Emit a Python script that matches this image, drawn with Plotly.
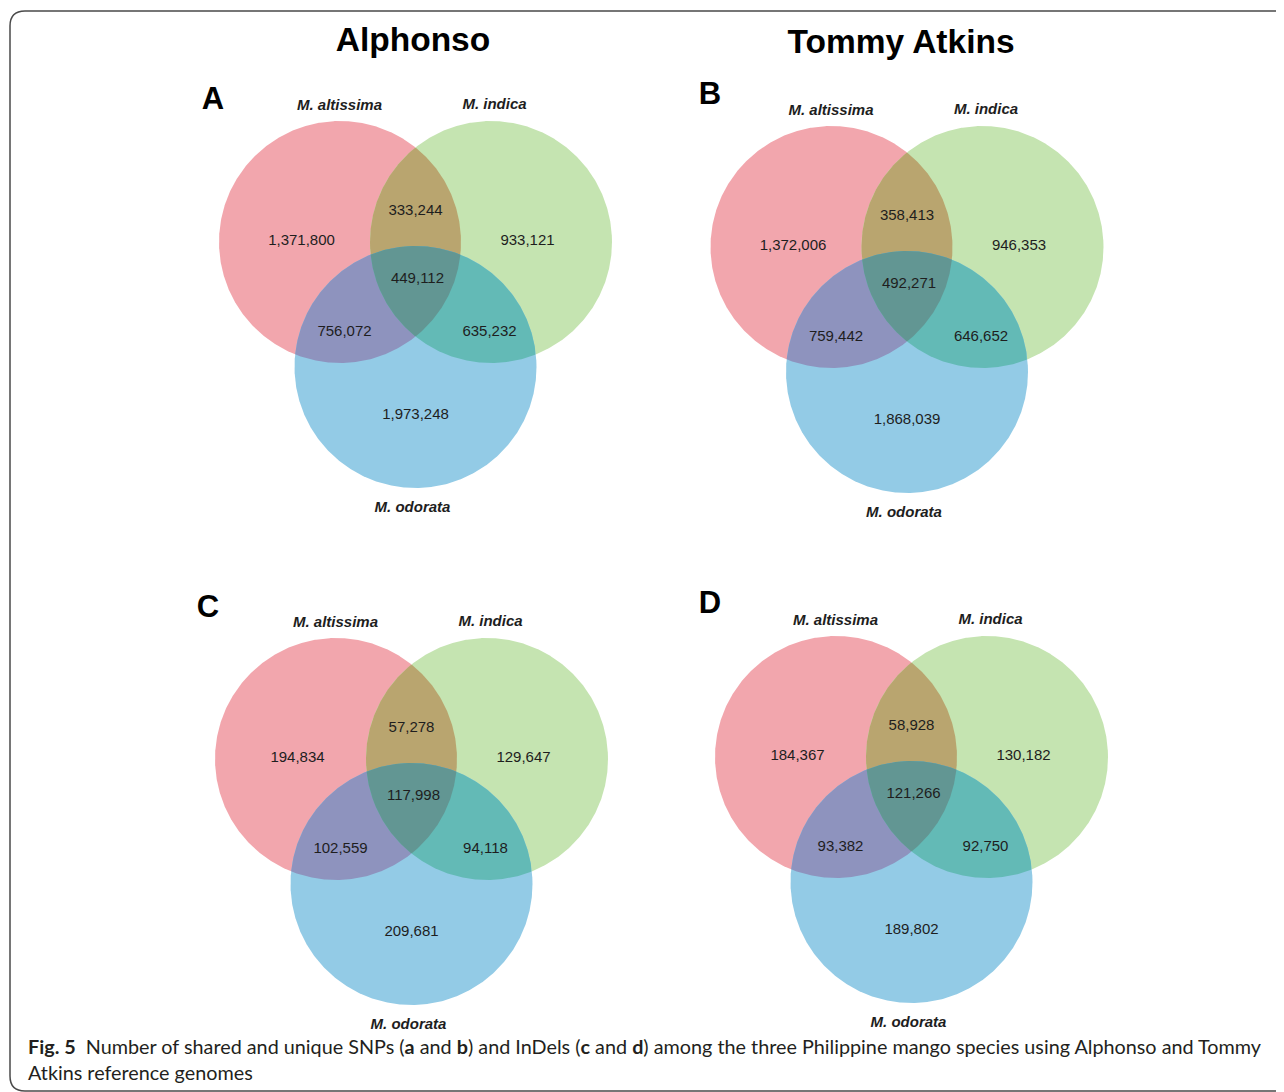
import numpy as np
import plotly.graph_objects as go

# ---------------- data ----------------
panel_letters = ["A", "B", "C", "D"]
column_titles = ["Alphonso", "Tommy Atkins"]
species = ["M. altissima", "M. indica", "M. odorata"]
# region order: only altissima, only indica, altissima&indica, all three,
#               altissima&odorata, indica&odorata, only odorata
counts_A = [1371800, 933121, 333244, 449112, 756072, 635232, 1973248]
counts_B = [1372006, 946353, 358413, 492271, 759442, 646652, 1868039]
counts_C = [194834, 129647, 57278, 117998, 102559, 94118, 209681]
counts_D = [184367, 130182, 58928, 121266, 93382, 92750, 189802]
caption_html = ("<b>Fig. 5</b>  Number of shared and unique SNPs (<b>a</b> and <b>b</b>) and InDels "
                "(<b>c</b> and <b>d</b>) among the three Philippine mango species using Alphonso and Tommy"
                "<br>Atkins reference genomes")

# ---------------- layout / geometry ----------------
W, H = 1284, 1092
PAGE_OFF = 8  # default body margin of the html page
R = 121.0
anchors = [(415.5, 242), (907, 247), (411.5, 759), (911.5, 757)]
letter_pos = [(213, 101), (710, 96), (208, 609), (710, 605)]
title_pos = [(413, 43), (901, 45)]
circle_off = [(-75.5, 0), (75.5, 0), (0, 125)]
label_off = [(-114, -1), (112, -1), (0, -31), (2, 37), (-71, 90), (74, 90), (0, 173)]
species_off = [(-76, -136), (79, -137), (-3, 266)]

col_red, col_green, col_blue = "#F2A6AD", "#C5E4B1", "#93CBE6"
col_rg, col_rb, col_gb, col_all = "#B9A56F", "#8E93BE", "#63BAB6", "#629693"
text_col = "#1e1e1e"

fig = go.Figure()


def circle_pts(c, n=720):
    t = np.linspace(0, 2 * np.pi, n, endpoint=False)
    return np.c_[c[0] + R * np.cos(t), c[1] + R * np.sin(t)]


def inside(p, c):
    return (p[:, 0] - c[0]) ** 2 + (p[:, 1] - c[1]) ** 2 <= R * R + 1e-6


def intersection_poly(cs):
    pts = []
    for i, c in enumerate(cs):
        p = circle_pts(c)
        m = np.ones(len(p), bool)
        for j, o in enumerate(cs):
            if j != i:
                m &= inside(p, o)
        pts.append(p[m])
    pts = np.vstack(pts)
    cen = pts.mean(axis=0)
    ang = np.arctan2(pts[:, 1] - cen[1], pts[:, 0] - cen[0])
    pts = pts[np.argsort(ang)]
    return np.vstack([pts, pts[:1]])


def add_poly(pts, color):
    fig.add_trace(go.Scatter(x=pts[:, 0], y=pts[:, 1], mode="lines", fill="toself",
                             fillcolor=color, line=dict(width=0, color=color),
                             hoverinfo="skip", showlegend=False))


all_counts = [counts_A, counts_B, counts_C, counts_D]
for k, (ax, ay) in enumerate(anchors):
    cs = [(ax + dx, ay + dy) for dx, dy in circle_off]
    for c, col in zip(cs, [col_red, col_green, col_blue]):
        p = circle_pts(c)
        add_poly(np.vstack([p, p[:1]]), col)
    add_poly(intersection_poly([cs[0], cs[1]]), col_rg)
    add_poly(intersection_poly([cs[0], cs[2]]), col_rb)
    add_poly(intersection_poly([cs[1], cs[2]]), col_gb)
    add_poly(intersection_poly(cs), col_all)
    # counts
    fig.add_trace(go.Scatter(
        x=[ax + dx for dx, dy in label_off], y=[ay + dy for dx, dy in label_off],
        mode="text", text=[f"{v:,}" for v in all_counts[k]],
        textfont=dict(family="Liberation Sans, Arial", size=15, color=text_col),
        hoverinfo="skip", showlegend=False))
    # species names
    fig.add_trace(go.Scatter(
        x=[ax + dx for dx, dy in species_off], y=[ay + dy for dx, dy in species_off],
        mode="text", text=[f"<b><i>{s}</i></b>" for s in species],
        textfont=dict(family="Liberation Sans, Arial", size=15, color=text_col),
        hoverinfo="skip", showlegend=False))

# panel letters
fig.add_trace(go.Scatter(
    x=[p[0] for p in letter_pos], y=[p[1] for p in letter_pos], mode="text",
    text=[f"<b>{l}</b>" for l in panel_letters],
    textfont=dict(family="Liberation Sans, Arial", size=31, color="#000"),
    hoverinfo="skip", showlegend=False))
# column titles
fig.add_trace(go.Scatter(
    x=[p[0] for p in title_pos], y=[p[1] for p in title_pos], mode="text",
    text=[f"<b>{t}</b>" for t in column_titles],
    textfont=dict(family="Liberation Sans, Arial", size=33.5, color="#000"),
    hoverinfo="skip", showlegend=False))

# caption
fig.add_annotation(x=26, y=1032, xref="x", yref="y", xanchor="left", yanchor="top",
                   text=caption_html, showarrow=False, align="left",
                   font=dict(family="Lato", size=19.8, color="#231f20"))

# border (rounded box, open to the right)
rr = 15
border = (f"M {W + 20},11 L {10 + rr},11 Q 10,11 10,{11 + rr} L 10,{1091 - rr} "
          f"Q 10,1091 {10 + rr},1091 L {W + 20},1091")
fig.add_shape(type="path", path=border, xref="x", yref="y",
              line=dict(color="#4a4a4a", width=1.5))

fig.update_layout(
    width=W, height=H, margin=dict(l=0, r=0, t=0, b=0),
    paper_bgcolor="white", plot_bgcolor="white",
    xaxis=dict(range=[PAGE_OFF, W + PAGE_OFF], visible=False, fixedrange=True),
    yaxis=dict(range=[H + PAGE_OFF, PAGE_OFF], visible=False, fixedrange=True),
    showlegend=False,
)

fig.write_html("out.html")
